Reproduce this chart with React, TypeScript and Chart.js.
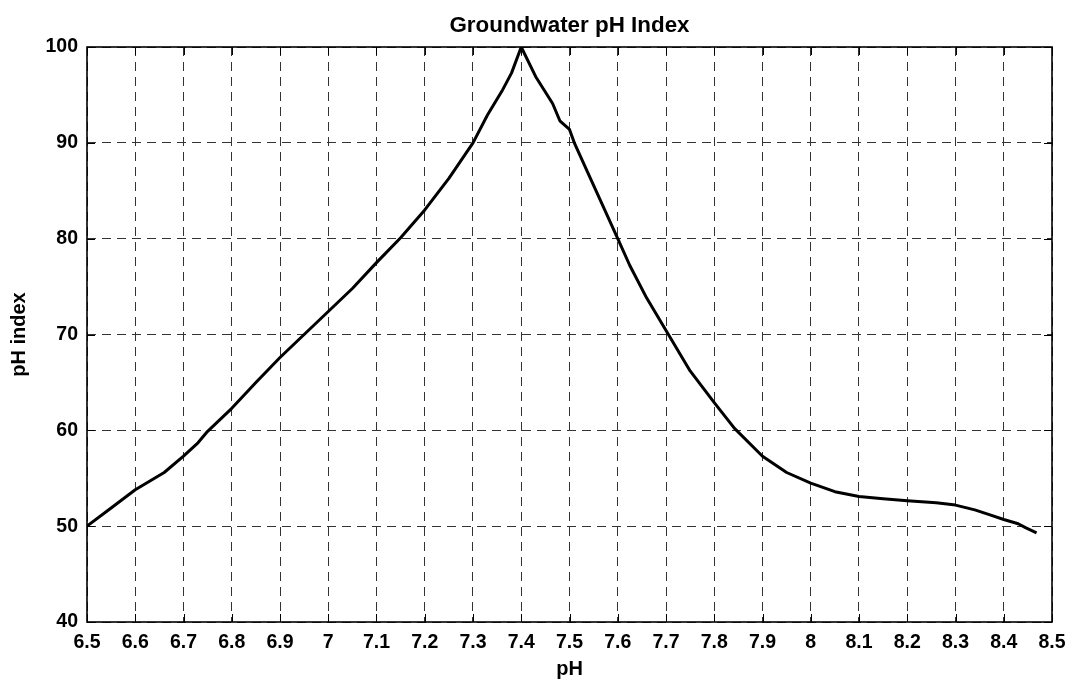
import React, { useEffect, useRef } from "react";
import { Chart, registerables } from "chart.js";

Chart.register(...registerables);

const chartTitle = "Groundwater pH Index";
const xAxisLabel = "pH";
const yAxisLabel = "pH index";

const xTickValues = [6.5, 6.6, 6.7, 6.8, 6.9, 7.0, 7.1, 7.2, 7.3, 7.4, 7.5, 7.6, 7.7, 7.8, 7.9, 8.0, 8.1, 8.2, 8.3, 8.4, 8.5];
const yTickValues = [40, 50, 60, 70, 80, 90, 100];

const phValues = [
  6.5, 6.55, 6.6, 6.62, 6.66, 6.7, 6.73, 6.75, 6.8, 6.85, 6.9, 6.95, 7.0, 7.05, 7.1, 7.15, 7.2, 7.25, 7.3, 7.33,
  7.36, 7.38, 7.4, 7.43, 7.465, 7.48, 7.5, 7.51, 7.545, 7.6, 7.625, 7.66, 7.705, 7.75, 7.8, 7.842, 7.9, 7.95,
  8.0, 8.05, 8.1, 8.15, 8.2, 8.26, 8.3, 8.34, 8.37, 8.4, 8.43, 8.445, 8.468,
];
const phIndexValues = [
  50.0, 51.9, 53.8, 54.4, 55.6, 57.3, 58.7, 59.9, 62.3, 65.0, 67.6, 70.0, 72.4, 74.8, 77.5, 80.1, 83.0, 86.3, 90.0, 92.9,
  95.4, 97.3, 100.0, 96.9, 94.1, 92.3, 91.4, 90.0, 86.1, 80.0, 77.2, 73.8, 70.0, 66.2, 62.9, 60.2, 57.3, 55.6,
  54.5, 53.6, 53.1, 52.85, 52.65, 52.45, 52.2, 51.7, 51.2, 50.7, 50.25, 49.85, 49.3,
];

const fontFamily = "'Liberation Sans', Arial, Helvetica, sans-serif";

const frameAndTicks = {
  id: "frameAndTicks",
  afterDraw(chart: any) {
    const { ctx, chartArea } = chart;
    const { left, right, top, bottom } = chartArea;
    const xs = chart.scales.x;
    const ys = chart.scales.y;
    const len = 8;
    ctx.save();
    ctx.strokeStyle = "#000";
    ctx.lineWidth = 1;
    ctx.setLineDash([]);
    ctx.beginPath();
    xTickValues.forEach((v) => {
      const px = Math.round(xs.getPixelForValue(v)) + 0.5;
      ctx.moveTo(px, bottom);
      ctx.lineTo(px, bottom - len);
      ctx.moveTo(px, top);
      ctx.lineTo(px, top + len);
    });
    yTickValues.forEach((v) => {
      const py = Math.round(ys.getPixelForValue(v)) + 0.5;
      ctx.moveTo(left, py);
      ctx.lineTo(left + len, py);
      ctx.moveTo(right, py);
      ctx.lineTo(right - len, py);
    });
    ctx.stroke();
    ctx.lineWidth = 1.6;
    ctx.strokeRect(left, top, right - left, bottom - top);

    // title centred over the plot area
    ctx.fillStyle = "#000";
    ctx.font = `bold 22.4px ${fontFamily}`;
    ctx.textAlign = "center";
    ctx.textBaseline = "middle";
    ctx.fillText(chartTitle, (left + right) / 2, 26);
    ctx.restore();
  },
};

function formatTick(v: number) {
  return String(Number(Number(v).toFixed(1)));
}

export default function App() {
  const canvasRef = useRef<HTMLCanvasElement | null>(null);

  useEffect(() => {
    if (!canvasRef.current) return;
    const data = phValues.map((x, i) => ({ x, y: phIndexValues[i] }));
    const chart = new Chart(canvasRef.current, {
      type: "line",
      data: {
        datasets: [
          {
            data,
            borderColor: "#000",
            borderWidth: 3,
            pointRadius: 0,
            tension: 0,
            borderJoinStyle: "round",
            fill: false,
          },
        ],
      },
      options: {
        animation: false,
        responsive: false,
        maintainAspectRatio: false,
        layout: { padding: { left: 0, right: 17, top: 47, bottom: 0 } },
        plugins: {
          legend: { display: false },
          tooltip: { enabled: false },
          title: { display: false },
        },
        scales: {
          x: {
            type: "linear",
            min: 6.5,
            max: 8.5,
            afterBuildTicks: (scale: any) => {
              scale.ticks = xTickValues.map((value) => ({ value }));
            },
            afterFit: (scale: any) => {
              scale.height = 57;
              scale.paddingLeft = 0;
              scale.paddingRight = 0;
            },
            ticks: {
              color: "#000",
              font: { family: fontFamily, size: 19.5, weight: "bold" },
              padding: 8.5,
              maxRotation: 0,
              autoSkip: false,
              callback: (v: any) => formatTick(v),
            },
            grid: {
              color: "#333",
              lineWidth: 1,
              drawTicks: false,
              tickLength: 0,
            },
            border: { display: false, dash: [9, 6] },
            title: {
              display: true,
              text: xAxisLabel,
              color: "#000",
              font: { family: fontFamily, size: 20, weight: "bold", lineHeight: 1 },
              padding: { top: 0, bottom: 0 },
            },
          },
          y: {
            type: "linear",
            min: 40,
            max: 100,
            afterBuildTicks: (scale: any) => {
              scale.ticks = yTickValues.map((value) => ({ value }));
            },
            afterFit: (scale: any) => {
              scale.width = 87;
              scale.paddingTop = 0;
              scale.paddingBottom = 0;
            },
            ticks: {
              color: "#000",
              font: { family: fontFamily, size: 19.5, weight: "bold" },
              padding: 9,
              autoSkip: false,
              callback: (v: any) => formatTick(v),
            },
            grid: {
              color: "#333",
              lineWidth: 1,
              drawTicks: false,
              tickLength: 0,
            },
            border: { display: false, dash: [9, 6] },
            title: {
              display: true,
              text: yAxisLabel,
              color: "#000",
              font: { family: fontFamily, size: 20, weight: "bold", lineHeight: 1 },
              padding: { top: 9, bottom: 0 },
            },
          },
        },
      },
      plugins: [frameAndTicks],
    } as any);
    return () => chart.destroy();
  }, []);

  return (
    <div style={{ position: "absolute", left: 0, top: 0, width: 1069, height: 679, background: "#fff" }}>
      <canvas ref={canvasRef} width={1069} height={679} style={{ display: "block", width: 1069, height: 679 }} />
    </div>
  );
}
